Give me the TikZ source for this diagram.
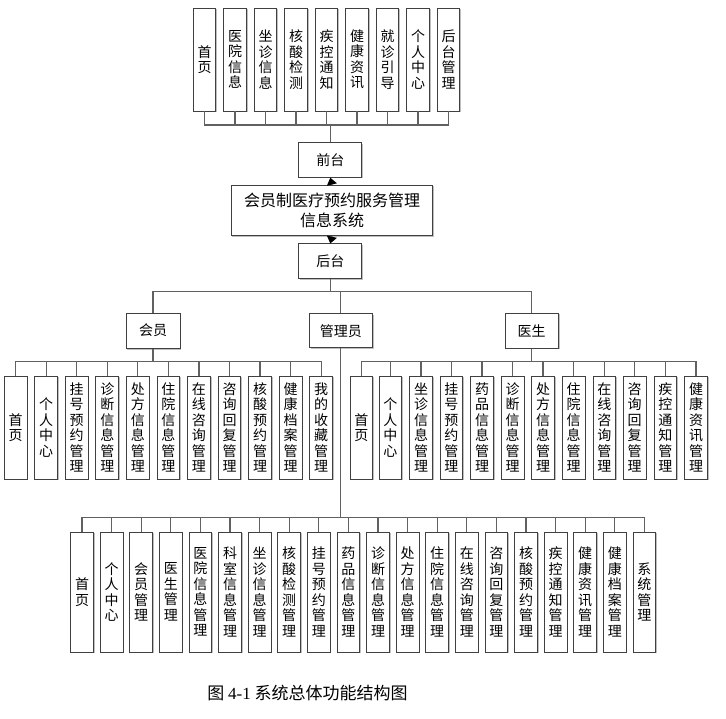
\documentclass[tikz,border=0pt]{standalone}
\usepackage{fontspec}
\setmainfont{Noto Sans CJK SC}
\newfontfamily\capfont{Noto Sans CJK SC}
\newfontfamily\capnum{Liberation Serif}
\usetikzlibrary{arrows.meta,shadows}
\newcommand{\fz}[2]{\fontsize{#1}{#2}\selectfont}
\begin{document}
\begin{tikzpicture}[x=1pt,y=-1pt,
  box/.style={draw=black!75, fill=white, line width=0.9pt, inner sep=0pt, align=center,
    font=\fz{14}{15.5}, drop shadow={shadow xshift=1.2pt, shadow yshift=-1.2pt, fill=black!25, opacity=1}},
  vbox/.style={box, minimum width=22.7pt, minimum height=103pt},
  lbox/.style={box, minimum width=22.7pt, minimum height=120pt},
  hbox/.style={box, minimum width=63pt, minimum height=34.5pt},
  conn/.style={draw=black!62, line width=1.3pt},
  arr/.style={draw=black!62, line width=1.3pt, -{Triangle[length=7pt,width=10pt,color=black]}}]
\useasboundingbox (0,0) rectangle (726,719);

% top row
\foreach \t [count=\i from 0] in {{首\\页},{医\\院\\信\\息},{坐\\诊\\信\\息},{核\\酸\\检\\测},{疾\\控\\通\\知},{健\\康\\资\\讯},{就\\诊\\引\\导},{个\\人\\中\\心},{后\\台\\管\\理}}
  \node[vbox] (t\i) at ({204.5+\i*30.5},59.5) {\t};

\node[hbox] (qt) at (330.3,160) {前台};
\node[box, minimum width=201.7pt, minimum height=50.4pt, font=\fz{16}{19.3}] (main) at (332,210.5) {会员制医疗预约服务管理\\信息系统};
\node[hbox] (ht) at (330.3,261.2) {后台};

\node[box, minimum width=54pt, minimum height=35.3pt] (hy) at (153,330.7) {会员};
\node[hbox] (gl) at (340.8,330.7) {管理员};
\node[box, minimum width=53.3pt, minimum height=35pt] (ys) at (531.7,330.8) {医生};

% member children
\foreach \t [count=\i from 0] in {{首\\页},{个\\人\\中\\心},{挂\\号\\预\\约\\管\\理},{诊\\断\\信\\息\\管\\理},{处\\方\\信\\息\\管\\理},{住\\院\\信\\息\\管\\理},{在\\线\\咨\\询\\管\\理},{咨\\询\\回\\复\\管\\理},{核\\酸\\预\\约\\管\\理},{健\\康\\档\\案\\管\\理},{我\\的\\收\\藏\\管\\理}}
  \node[vbox] (m\i) at ({15.6+\i*30.56},427.5) {\t};

% doctor children
\foreach \t/\x [count=\i from 0] in {{首\\页}/361.4,{个\\人\\中\\心}/390.4,{坐\\诊\\信\\息\\管\\理}/421,{挂\\号\\预\\约\\管\\理}/451.4,{药\\品\\信\\息\\管\\理}/482,{诊\\断\\信\\息\\管\\理}/512.7,{处\\方\\信\\息\\管\\理}/543,{住\\院\\信\\息\\管\\理}/573.7,{在\\线\\咨\\询\\管\\理}/604.4,{咨\\询\\回\\复\\管\\理}/634.7,{疾\\控\\通\\知\\管\\理}/665.4,{健\\康\\资\\讯\\管\\理}/696}
  \node[vbox] (d\i) at (\x,427.5) {\t};

% admin children
\foreach \t [count=\i from 0] in {{首\\页},{个\\人\\中\\心},{会\\员\\管\\理},{医\\生\\管\\理},{医\\院\\信\\息\\管\\理},{科\\室\\信\\息\\管\\理},{坐\\诊\\信\\息\\管\\理},{核\\酸\\检\\测\\管\\理},{挂\\号\\预\\约\\管\\理},{药\\品\\信\\息\\管\\理},{诊\\断\\信\\息\\管\\理},{处\\方\\信\\息\\管\\理},{住\\院\\信\\息\\管\\理},{在\\线\\咨\\询\\管\\理},{咨\\询\\回\\复\\管\\理},{核\\酸\\预\\约\\管\\理},{疾\\控\\通\\知\\管\\理},{健\\康\\资\\讯\\管\\理},{健\\康\\档\\案\\管\\理},{系\\统\\管\\理}}
  \node[lbox] (a\i) at ({82+\i*29.6},592) {\t};

% connectors: top
\coordinate (bt) at (330.3,125);
\foreach \i in {0,...,8} \draw[conn] (t\i.south) |- (bt);
\draw[conn] (qt.north) -- (bt);

% arrows
\draw[arr] (main.north) -- (qt.south);
\draw[arr] (main.south) -- (ht.north);

% second level
\coordinate (bm) at (330.3,291.5);
\draw[conn] (ht.south) -- (bm);
\draw[conn] (hy.north) |- (bm);
\draw[conn] (gl.north) |- (bm);
\draw[conn] (ys.north) |- (bm);

% member bus
\coordinate (bh) at (153,361.7);
\draw[conn] (hy.south) -- (bh);
\foreach \i in {0,...,10} \draw[conn] (m\i.north) |- (bh);

% doctor bus
\coordinate (bd) at (531.7,361.7);
\draw[conn] (ys.south) -- (bd);
\foreach \i in {0,...,11} \draw[conn] (d\i.north) |- (bd);

% admin bus
\coordinate (ba) at (340.8,517.7);
\draw[conn] (gl.south) -- (ba);
\foreach \i in {0,...,19} \draw[conn] (a\i.north) |- (ba);

% caption
\node[font=\fz{17}{20}\capfont] (cap) at (307.5,693) {图 {\capnum 4-1} 系统总体功能结构图};
\end{tikzpicture}
\end{document}
